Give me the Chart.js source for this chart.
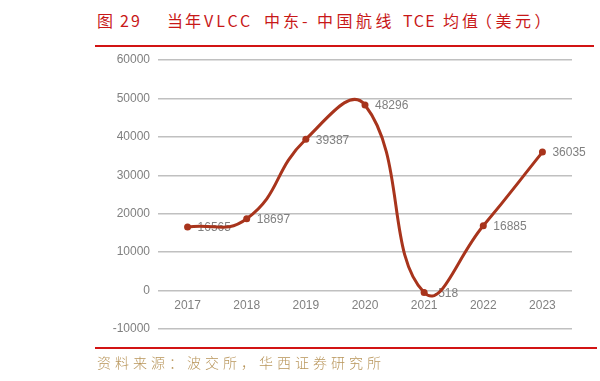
<!DOCTYPE html>
<html><head><meta charset="utf-8">
<script src="https://cdn.jsdelivr.net/npm/chart.js@4/dist/chart.umd.min.js"></script>
<style>
html,body{margin:0;padding:0;background:#fff;}
#wrap{position:relative;width:600px;height:381px;overflow:hidden;}
.t{position:absolute;top:8px;font-family:"Noto Sans CJK SC";font-size:16px;color:#c81818;white-space:pre;line-height:24px;}
#topline{position:absolute;left:95px;top:45px;width:499px;height:2px;background:#d21414;}
#botline{position:absolute;left:95px;top:347px;width:502px;height:2px;background:#d21414;}
#src{position:absolute;left:97px;top:352px;font-family:"Noto Sans CJK SC";font-weight:300;font-size:14px;color:#b8955a;letter-spacing:4px;line-height:20px;white-space:pre;}
canvas{position:absolute;left:0;top:0;}
</style></head>
<body><div id="wrap">
<div class="t" style="left:97px">图</div>
<div class="t" style="left:120px;letter-spacing:2px">29</div>
<div class="t" style="left:167px;letter-spacing:2px">当年</div>
<div class="t" style="left:204px;letter-spacing:3px">VLCC</div>
<div class="t" style="left:264px;letter-spacing:3px">中东</div>
<div class="t" style="left:302px">-</div>
<div class="t" style="left:317px;letter-spacing:3.5px">中国航线</div>
<div class="t" style="left:403px;letter-spacing:1.5px">TCE</div>
<div class="t" style="left:443px;letter-spacing:3px">均值</div>
<div class="t" style="left:476px;letter-spacing:3.5px">（美元）</div>
<div id="topline"></div>
<canvas id="c" width="600" height="381"></canvas>
<div id="botline"></div>
<div id="src">资料来源：波交所，华西证券研究所</div>
</div>
<script>
const years = ["2017","2018","2019","2020","2021","2022","2023"];
const tceValues = [16565, 18697, 39387, 48296, -518, 16885, 36035];
const yMin = -10000, yMax = 60000, yStep = 10000;

const labelPlugin = {
  id: 'valueLabels',
  beforeDatasetsDraw(chart) {
    const ctx = chart.ctx;
    const meta = chart.getDatasetMeta(0);
    ctx.save();
    ctx.font = '12px "Liberation Sans"';
    ctx.fillStyle = '#808080';
    ctx.textAlign = 'left';
    ctx.textBaseline = 'middle';
    meta.data.forEach((pt, i) => {
      ctx.fillText(String(tceValues[i]), pt.x + 10, pt.y + 1);
    });
    ctx.restore();
  }
};

new Chart(document.getElementById('c'), {
  type: 'line',
  data: {
    labels: years,
    datasets: [{
      data: tceValues,
      borderColor: '#a8341c',
      backgroundColor: '#a8341c',
      borderWidth: 3,
      pointRadius: 3.5,
      pointBackgroundColor: '#a8341c',
      pointBorderWidth: 0,
      tension: 0.47,
      fill: false
    }]
  },
  options: {
    responsive: false,
    animation: false,
    layout: { padding: { left: 0, top: 60, right: 28, bottom: 52 } },
    plugins: { legend: { display: false }, tooltip: { enabled: false }, title: { display: false } },
    scales: {
      x: {
        type: 'category',
        position: { y: 0 },
        offset: true,
        grid: { display: false, drawTicks: false },
        border: { display: false },
        ticks: { color: '#808080', font: { family: 'Liberation Sans', size: 12 }, padding: 8, maxRotation: 0 }
      },
      y: {
        min: yMin, max: yMax,
        afterFit(scale) { scale.width = 158; },
        grid: { color: '#c0c0c0', lineWidth: 1.5, drawTicks: false },
        border: { display: false },
        ticks: { stepSize: yStep, color: '#808080', font: { family: 'Liberation Sans', size: 12 }, padding: 8,
          callback: (v) => String(v) }
      }
    }
  },
  plugins: [labelPlugin]
});
</script>
</body></html>
